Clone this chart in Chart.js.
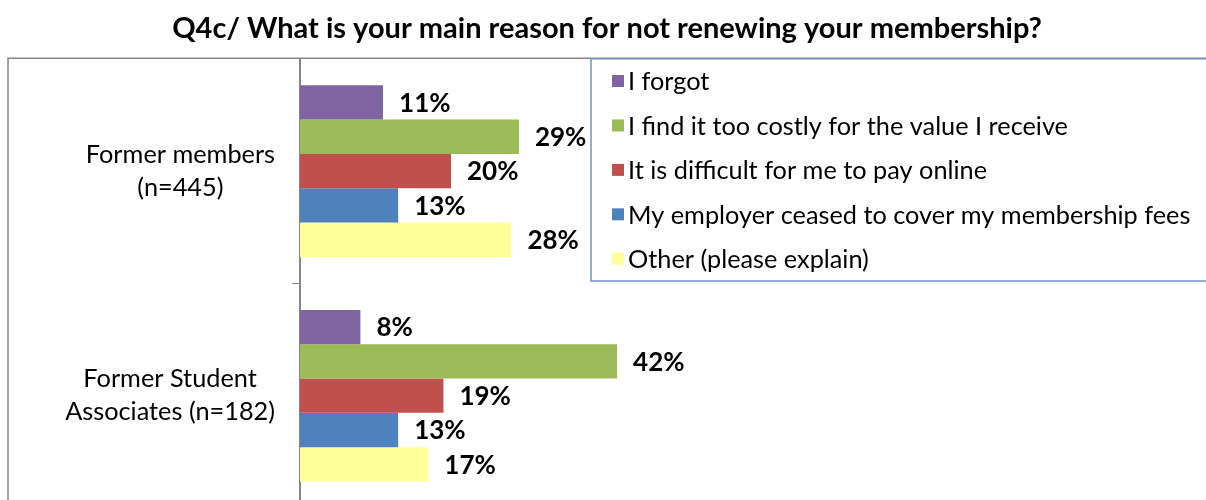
<!DOCTYPE html>
<html>
<head>
<meta charset="utf-8">
<script src="https://cdn.jsdelivr.net/npm/chart.js@4"></script>
<style>
  html, body { margin: 0; padding: 0; background: #fff; overflow: hidden; }
  #wrap { position: relative; width: 1206px; height: 508px; }
</style>
</head>
<body>
<div id="wrap"><canvas id="chartReasons"></canvas></div>
<script>
const TITLE      = 'Q4c/ What is your main reason for not renewing your membership?';
const CATEGORIES = [['Former members', '(n=445)'], ['Former Student', 'Associates (n=182)']];
const REASONS    = ['I forgot', 'I find it too costly for the value I receive', 'It is difficult for me to pay online',
                    'My employer ceased to cover my membership fees', 'Other (please explain)'];
const COLORS     = ['#8064A2', '#9BBB59', '#C0504D', '#4F81BD', '#FFFF99'];
// percent per reason: [former members, former student associates]
const FORGOT     = [11, 8];
const COSTLY     = [29, 42];
const PAY_ONLINE = [20, 19];
const EMPLOYER   = [13, 13];
const OTHER      = [28, 17];
const SERIES     = [FORGOT, COSTLY, PAY_ONLINE, EMPLOYER, OTHER];

const FONT = 'Lato, "Open Sans", sans-serif';
const GREY = '#868686';
const TEXT_PX = 25.3;

// outer frame of the plot, like the spreadsheet original
const framePlugin = {
  id: 'frame',
  beforeDraw(chart) {
    const { ctx, chartArea } = chart;
    ctx.save();
    ctx.strokeStyle = GREY;
    ctx.lineWidth = 1.5;
    ctx.beginPath();
    ctx.moveTo(8, chart.height + 5);
    ctx.lineTo(8, chartArea.top - 0.5);
    ctx.lineTo(chart.width + 5, chartArea.top - 0.5);
    ctx.stroke();
    ctx.restore();
  }
};

// category labels: each block right-aligned to the axis, its lines centred within the block (Excel style)
const categoryLabels = {
  id: 'categoryLabels',
  afterDraw(chart) {
    const { ctx } = chart;
    const y = chart.scales.y;
    ctx.save();
    ctx.font = `${TEXT_PX}px ${FONT}`;
    ctx.fillStyle = '#000';
    ctx.textAlign = 'center';
    ctx.textBaseline = 'middle';
    chart.data.labels.forEach((lines, i) => {
      const w = Math.max(...lines.map(t => ctx.measureText(t).width));
      const cx = y.right - 25 - w / 2;
      const cy = y.getPixelForTick(i);
      lines.forEach((t, k) => ctx.fillText(t, cx, cy + (k - (lines.length - 1) / 2) * 33));
    });
    ctx.restore();
  }
};

// value labels to the right of each bar
const valueLabels = {
  id: 'valueLabels',
  afterDatasetsDraw(chart) {
    const { ctx } = chart;
    ctx.save();
    ctx.font = `bold 26px ${FONT}`;
    ctx.fillStyle = '#000';
    ctx.textAlign = 'left';
    ctx.textBaseline = 'middle';
    chart.data.datasets.forEach((ds, i) => {
      chart.getDatasetMeta(i).data.forEach((bar, j) => {
        ctx.fillText(ds.data[j] + '%', bar.x + 16, bar.y + 1);
      });
    });
    ctx.restore();
  }
};

// boxed legend overlapping the plot area, top right
const boxLegend = {
  id: 'boxLegend',
  afterDraw(chart) {
    const { ctx, chartArea } = chart;
    const left = 591, top = chartArea.top, bottom = 281;
    const rowH = (bottom - top) / chart.data.datasets.length;
    ctx.save();
    ctx.fillStyle = '#fff';
    ctx.fillRect(left, top, chart.width, bottom - top);
    ctx.strokeStyle = '#6F93CB';
    ctx.lineWidth = 1.5;
    ctx.strokeRect(left, top, chart.width, bottom - top);
    ctx.font = `${TEXT_PX}px ${FONT}`;
    ctx.textAlign = 'left';
    ctx.textBaseline = 'middle';
    chart.data.datasets.forEach((ds, i) => {
      const y = top + rowH * (i + 0.5);
      ctx.fillStyle = ds.backgroundColor;
      ctx.fillRect(612, y - 6, 12, 12);
      ctx.fillStyle = '#000';
      ctx.fillText(ds.label, 628, y + 1);
    });
    ctx.restore();
  }
};

new Chart(document.getElementById('chartReasons'), {
  type: 'bar',
  data: {
    labels: CATEGORIES,
    datasets: REASONS.map((r, i) => ({ label: r, data: SERIES[i], backgroundColor: COLORS[i],
      categoryPercentage: 0.764, barPercentage: 1 }))
  },
  options: {
    indexAxis: 'y',
    responsive: true, maintainAspectRatio: false, animation: false,
    layout: { padding: { left: 8, right: 0, top: 0, bottom: 0 } },
    plugins: {
      legend: { display: false },
      tooltip: { enabled: false },
      title: { display: true, text: TITLE, color: '#000',
        font: { family: FONT, size: 29, weight: 'bold', lineHeight: 1.2 }, padding: { top: 11, bottom: 13 } }
    },
    scales: {
      x: { display: false, min: 0, max: 120 },
      y: {
        afterFit(scale) { scale.width = 292; scale.paddingTop = 0; scale.paddingBottom = 0; },
        grid: { display: true, drawOnChartArea: false, drawTicks: true, tickLength: 8, color: GREY, offset: true },
        border: { display: true, color: GREY, width: 2 },
        ticks: { display: false }
      }
    }
  },
  plugins: [framePlugin, valueLabels, categoryLabels, boxLegend]
});
</script>
</body>
</html>
